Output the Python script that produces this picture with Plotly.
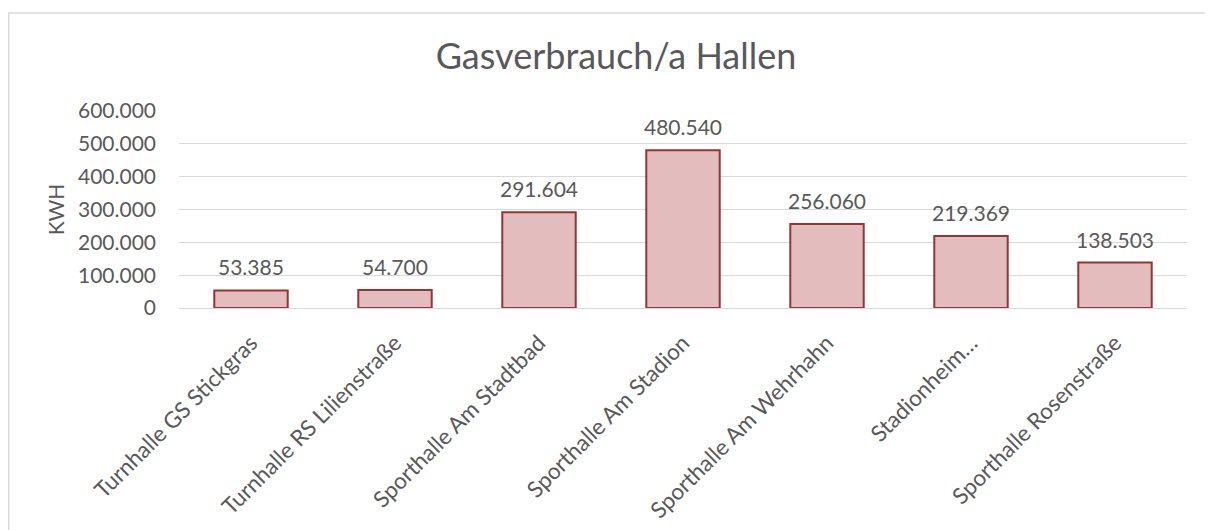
import plotly.graph_objects as go

categories = ["Turnhalle GS Stickgras", "Turnhalle RS Lilienstraße", "Sporthalle Am Stadtbad",
              "Sporthalle Am Stadion", "Sporthalle Am Wehrhahn", "Stadionheim…", "Sporthalle Rosenstraße"]
values = [53385, 54700, 291604, 480540, 256060, 219369, 138503]
y_ticks = [0, 100000, 200000, 300000, 400000, 500000, 600000]

FONT = "Lato"
GRAY = "#595959"

W, H = 1205, 522
ML, MT, MR, MB = 171, 103, 26, 222
PW = W - ML - MR
PH = H - MT - MB

fig = go.Figure()
fig.add_trace(go.Bar(
    x=categories, y=values,
    marker=dict(color="#E3BDBD", line=dict(color="#943634", width=2)),
    hoverinfo="x+y",
))

for c, v in zip(categories, values):
    fig.add_annotation(x=c, y=v, text=f"{v:,}".replace(",", "."), showarrow=False,
                       yanchor="bottom", yshift=9,
                       font=dict(family=FONT, size=21, color=GRAY))

fig.update_layout(
    width=W, height=H,
    margin=dict(l=ML, r=MR, t=MT, b=MB, autoexpand=False),
    paper_bgcolor="white", plot_bgcolor="white",
    separators=",.",
    bargap=0.49,
    showlegend=False,
    title=dict(text="Gasverbrauch/a Hallen", x=608 / W, xanchor="center",
               y=1 - 48 / H, yanchor="middle",
               font=dict(family=FONT, size=36, color=GRAY)),
    xaxis=dict(tickangle=-45, tickfont=dict(family=FONT, size=22.5, color=GRAY),
               showgrid=False, showline=True, linecolor="#D9D9D9", linewidth=1,
               ticks="", ticklen=0, ticklabelstandoff=12, automargin=False),
    yaxis=dict(range=[0, 600000], tickvals=y_ticks, tickformat=",.0f",
               tickfont=dict(family=FONT, size=21, color=GRAY),
               showgrid=True, gridcolor="#D9D9D9", gridwidth=1,
               zeroline=False, showline=False, ticks="", ticklabelstandoff=22,
               automargin=False,
               title=dict(text="KWH", font=dict(family=FONT, size=21, color=GRAY), standoff=7)),
    shapes=[dict(type="rect", xref="paper", yref="paper",
                 x0=(0.75 - ML) / PW, x1=1.3, y0=-3, y1=1 + (MT - 5) / PH,
                 line=dict(color="#D9D9D9", width=1.5), fillcolor="rgba(0,0,0,0)", layer="below")],
)

fig.write_html("out.html")
